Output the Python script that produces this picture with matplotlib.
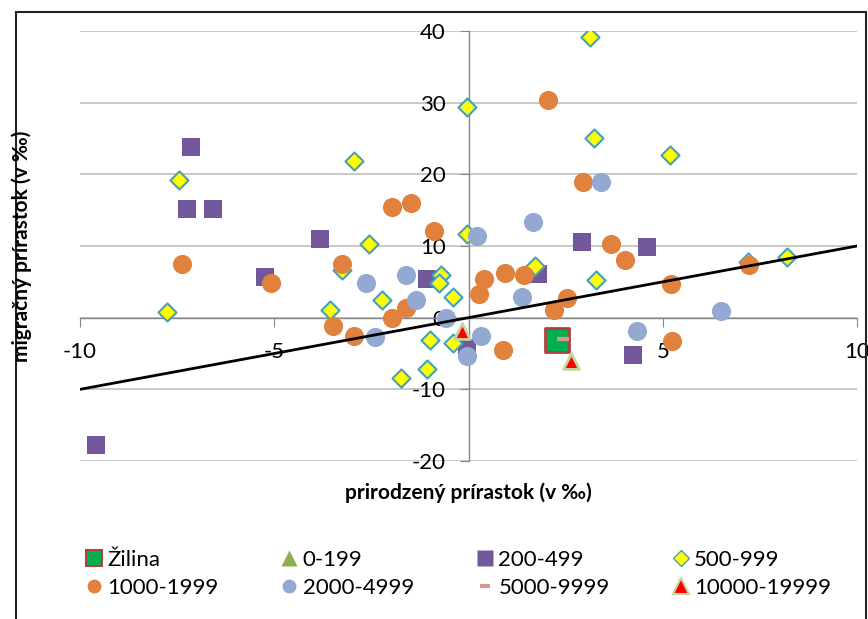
import matplotlib
matplotlib.use("Agg")
import matplotlib.pyplot as plt
from matplotlib.lines import Line2D
from matplotlib.patches import Rectangle

plt.rcParams['font.family'] = ['Lato', 'DejaVu Sans']

# data (x = prirodzený, y = migračný prírastok v ‰)
zilina_x = [2.27]
zilina_y = [-3.1]

g0_199_x = []
g0_199_y = []

g200_x = [-7.14, -7.24, -6.57, -3.81, -5.23, -1.08, -9.6, 2.91, 4.59, 1.78, 4.23, -0.05]
g200_y = [23.8, 15.2, 15.2, 11.0, 5.7, 5.4, -17.7, 10.6, 9.9, 6.1, -5.2, -4.2]

g500_x = [3.12, -0.03, 3.22, 5.18, -2.96, -7.45, -2.55, -0.05, -7.76, -3.56, -2.22,
          -0.7, -0.77, -0.41, -3.25, -1.0, -0.41, -1.06, -1.75, 1.70, 3.27, 8.2, 7.2]
g500_y = [39.2, 29.4, 25.1, 22.7, 21.8, 19.2, 10.3, 11.7, 0.8, 1.1, 2.5,
          6.0, 4.9, 2.9, 6.6, -3.1, -3.6, -7.1, -8.4, 7.2, 5.2, 8.4, 7.8]

g1000_x = [2.04, 2.94, -1.98, -1.49, -0.9, -7.37, -5.08, -3.25, -3.48, -2.94, -1.98,
           -1.6, 0.39, 0.26, 0.95, 1.42, 3.66, 4.02, 2.53, 2.19, 5.21, 0.9, 5.23, 7.22]
g1000_y = [30.4, 19.0, 15.5, 16.0, 12.1, 7.5, 4.8, 7.5, -1.1, -2.5, -0.1,
           1.4, 5.4, 3.3, 6.3, 5.9, 10.3, 8.1, 2.8, 1.1, 4.7, -4.5, -3.2, 7.3]

g2000_x = [3.40, 1.65, 0.21, -2.65, -1.6, -1.34, -2.4, -0.57, -0.03, 0.31, 1.37, 4.33, 6.49]
g2000_y = [19.0, 13.4, 11.4, 4.8, 5.9, 2.4, -2.7, 0.0, -5.3, -2.5, 2.9, -1.8, 1.0]

g5000_x = [2.42]
g5000_y = [-3.0]

g10000_x = [-0.18, 2.65]
g10000_y = [-1.8, -6.0]

trend_x = [-10, 10]
trend_y = [-10, 10]

x_ticks = [-10, -5, 0, 5, 10]
y_ticks = [-20, -10, 0, 10, 20, 30, 40]

c_zil, c_zil_edge = '#00b050', '#b3403f'
c_olive = '#8faf4f'
c_purple = '#72589a'
c_yellow, c_teal = '#ffff00', '#46a0bb'
c_orange = '#e0823d'
c_blue = '#93a9d1'
c_pink = '#d99694'
c_red, c_red_edge = '#ff0000', '#c3d69b'

W, H = 868, 619
fig = plt.figure(figsize=(W / 100, H / 100), dpi=100)
ax = fig.add_axes([80 / W, 1 - 461 / H, (857 - 80) / W, (461 - 31) / H])

ax.scatter(zilina_x, zilina_y, marker='s', s=300, c=c_zil, edgecolors=c_zil_edge, linewidths=2, zorder=3)
ax.scatter(g0_199_x, g0_199_y, marker='^', s=130, c=c_olive, zorder=3)
ax.scatter(g200_x, g200_y, marker='s', s=175, c=c_purple, linewidths=0, zorder=3)
ax.scatter(g500_x, g500_y, marker='D', s=85, c=c_yellow, edgecolors=c_teal, linewidths=1.5, zorder=3)
ax.scatter(g1000_x, g1000_y, marker='o', s=190, c=c_orange, linewidths=0, zorder=3)
ax.scatter(g2000_x, g2000_y, marker='o', s=190, c=c_blue, linewidths=0, zorder=3)
ax.scatter(g5000_x, g5000_y, marker='_', s=70, c=c_pink, linewidths=3, zorder=3)
ax.plot(trend_x, trend_y, color='black', lw=2, zorder=4)
ax.scatter(g10000_x, g10000_y, marker='^', s=130, c=c_red, edgecolors=c_red_edge, linewidths=2, zorder=5)

ax.set_xlim(-10, 10)
ax.set_ylim(-20, 40)
ax.set_xticks(x_ticks)
ax.set_yticks(y_ticks)
ax.set_xticklabels([str(v) for v in x_ticks])
ax.set_yticklabels([str(v) for v in y_ticks])

for s in ['top', 'right']:
    ax.spines[s].set_visible(False)
ax.spines['left'].set_position(('data', 0))
ax.spines['bottom'].set_position(('data', 0))
for s in ['left', 'bottom']:
    ax.spines[s].set_color('#868686')
    ax.spines[s].set_linewidth(1)

ax.yaxis.grid(True, color='#bfbfbf', lw=1.2)
ax.set_axisbelow(True)
ax.tick_params(axis='both', direction='out', length=6.5, color='#868686', labelsize=16)
ax.tick_params(axis='x', pad=11)
ax.tick_params(axis='y', pad=10)

fig.text(468.5 / W, 1 - 493 / H, 'prirodzený prírastok (v ‰)', ha='center', va='center',
         fontsize=15, fontweight='bold')
fig.text(22 / W, 1 - 246 / H, 'migračný prírastok (v ‰)', ha='center', va='center',
         rotation=90, fontsize=15, fontweight='bold')

handles = [
    Line2D([], [], ls='none', marker='s', ms=11, mfc=c_zil, mec=c_zil_edge, mew=1.5),
    Line2D([], [], ls='none', marker='o', ms=10, mfc=c_orange, mec='none'),
    Line2D([], [], ls='none', marker='^', ms=11, mfc=c_olive, mec='none'),
    Line2D([], [], ls='none', marker='o', ms=10, mfc=c_blue, mec='none'),
    Line2D([], [], ls='none', marker='s', ms=11, mfc=c_purple, mec='none'),
    Line2D([], [], ls='none', marker='_', ms=7, mec=c_pink, mew=3),
    Line2D([], [], ls='none', marker='D', ms=8, mfc=c_yellow, mec=c_teal, mew=1),
    Line2D([], [], ls='none', marker='^', ms=11, mfc=c_red, mec=c_red_edge, mew=1.5),
]
labels = ['Žilina', '1000-1999', '0-199', '2000-4999', '200-499', '5000-9999',
          '500-999', '10000-19999']
fig.legend(handles, labels, ncol=4, loc='upper left', bbox_to_anchor=(87 / W, 1 - 550 / H),
           frameon=False, fontsize=16, handlelength=0.6, handletextpad=0.3,
           columnspacing=2.9, labelspacing=0.35, borderpad=0, borderaxespad=0)

fig.add_artist(Rectangle((16 / W, -0.1), (866 - 16) / W, 1.1 - 12 / H, transform=fig.transFigure,
                         fill=False, ec='#222222', lw=1.5))

fig.savefig('out.png', dpi=100)
